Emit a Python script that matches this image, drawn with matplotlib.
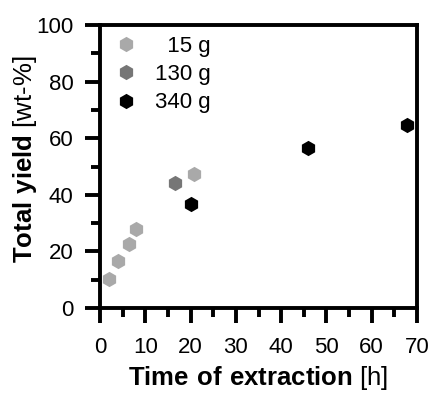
import matplotlib
matplotlib.use("Agg")
import matplotlib.pyplot as plt
from matplotlib.ticker import MultipleLocator

plt.rcParams['font.family'] = ['Liberation Sans', 'DejaVu Sans']
plt.rcParams['mathtext.fontset'] = 'custom'
plt.rcParams['mathtext.bf'] = 'Liberation Sans:bold'
plt.rcParams['mathtext.rm'] = 'Liberation Sans'

# === Data ===
t_15 = [2.0, 4.0, 6.3, 8.0, 20.7]
y_15 = [10.2, 16.6, 22.6, 27.8, 47.5]
t_130 = [16.6]
y_130 = [44.2]
t_340 = [20.2, 46.0, 67.9]
y_340 = [36.7, 56.6, 64.6]

labels = ["  15 g", "130 g", "340 g"]
colors = ["#a9a9a9", "#767676", "#000000"]

# === Plot ===
fig = plt.figure(figsize=(4.3, 3.94), dpi=100)
ax = fig.add_axes([100/430, 1 - 308/394, 317/430, 283/394])

for t, y, c, lab in zip([t_15, t_130, t_340], [y_15, y_130, y_340], colors, labels):
    ax.plot(t, y, linestyle="none", marker="h", markersize=11, color=c,
            markeredgewidth=0, label=lab, clip_on=False, zorder=3)

ax.set_xlim(0, 70)
ax.set_ylim(0, 100)
ax.xaxis.set_major_locator(MultipleLocator(10))
ax.xaxis.set_minor_locator(MultipleLocator(5))
ax.yaxis.set_major_locator(MultipleLocator(20))
ax.yaxis.set_minor_locator(MultipleLocator(10))

for s in ax.spines.values():
    s.set_linewidth(2.8)
ax.tick_params(which="major", direction="out", length=11, width=2.8,
               labelsize=16)
ax.tick_params(which="minor", direction="out", length=6.5, width=2.8)
ax.tick_params(axis="x", which="major", pad=10)
ax.tick_params(axis="y", which="major", pad=8)

ax.set_xlabel(r"$\bf{Time\ of\ extraction}$ [h]", fontsize=18.5, labelpad=4)
ax.set_ylabel(r"$\bf{Total\ yield}$ [wt-%]", fontsize=18.5)
ax.yaxis.set_label_coords(-0.192, 0.525)

ax.legend(loc="upper left", frameon=False, fontsize=16, handlelength=0.6,
          handletextpad=1.0, labelspacing=0.32, borderaxespad=0.2,
          borderpad=0.3, bbox_to_anchor=(0.025, 1.0))

fig.savefig("out.png", dpi=100)
